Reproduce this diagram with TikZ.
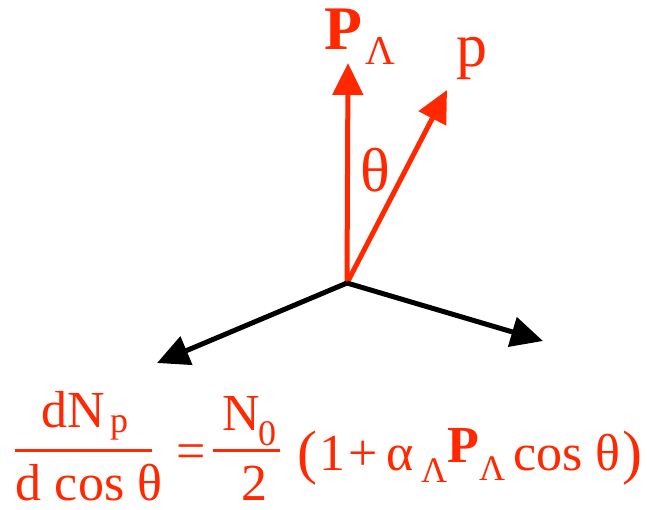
\documentclass[tikz,border=0pt]{standalone}
\usepackage{fontspec}
\setmainfont{Liberation Serif}
\usetikzlibrary{arrows.meta}
\definecolor{lred}{RGB}{255,40,0}
\newcommand\fs[1]{\fontsize{#1}{#1}\selectfont}
\begin{document}
\begin{tikzpicture}[x=1pt,y=-1pt,
  vec/.style={line width=5pt,-{Triangle[length=32pt,width=30pt]}},
  txt/.style={text=lred,inner sep=0pt,outer sep=0pt,anchor=base west,text depth=0pt},
  lab/.style={txt,font=\fs{62}},
  labsub/.style={txt,font=\fs{41}},
  eq/.style={txt,font=\fs{52}},
  eqsub/.style={txt,font=\fs{36}},
  fracline/.style={draw=lred,line width=3pt}]
\useasboundingbox (0,0) rectangle (647,510);
% vectors
\coordinate (O) at (347,283);
\coordinate (PL) at (348,63);
\coordinate (pt) at (447,90);
\coordinate (L) at (157,363);
\coordinate (R) at (543,341);
\draw[vec,lred] (O) -- (PL);
\draw[vec,lred] (O) -- (pt);
\draw[vec,black] (O) -- (L);
\draw[vec,black] (O) -- (R);
% labels
\node[lab] (Pbig) at (324,50) {\textbf{P}};
\node[labsub] (Psub) at (365,65) {Λ};
\node[lab] (plab) at (456,67) {p};
\node[lab] (th) at (360,192) {θ};
% formula: left fraction
\node[eq] (n1) at (41,427) {dN};
\node[eqsub] (n1s) at (110,432) {p};
\coordinate (f1a) at (15,450);
\coordinate (f1b) at (152,450);
\draw[fracline] (f1a) -- (f1b);
\node[eq] (d1) at (16,500) {d cos θ};
% equals
\node[eq] (eqs) at (176,468) {=};
\node[eq] (n2) at (222,430) {N};
\node[eqsub] (n2s) at (258,445) {0};
\coordinate (f2a) at (213,450);
\coordinate (f2b) at (280,450);
\draw[fracline] (f2a) -- (f2b);
\node[eq] (two) at (241,500) {2};
% bracket
\node[eq,font=\fs{60}] (lp) at (297,472) {(};
\node[eq] (one) at (319,470) {1};
\node[eq] (plus) at (348,470) {+};
\node[eq] (al) at (386,470) {α};
\node[eqsub] (als) at (421,482) {Λ};
\node[eq] (P2) at (447,462) {\textbf{P}};
\node[eqsub] (P2s) at (479,480) {Λ};
\node[eq] (cs) at (513,470) {cos};
\node[eq] (th2) at (595,470) {θ};
\node[eq,font=\fs{60}] (rp) at (622,472) {)};
\end{tikzpicture}
\end{document}
